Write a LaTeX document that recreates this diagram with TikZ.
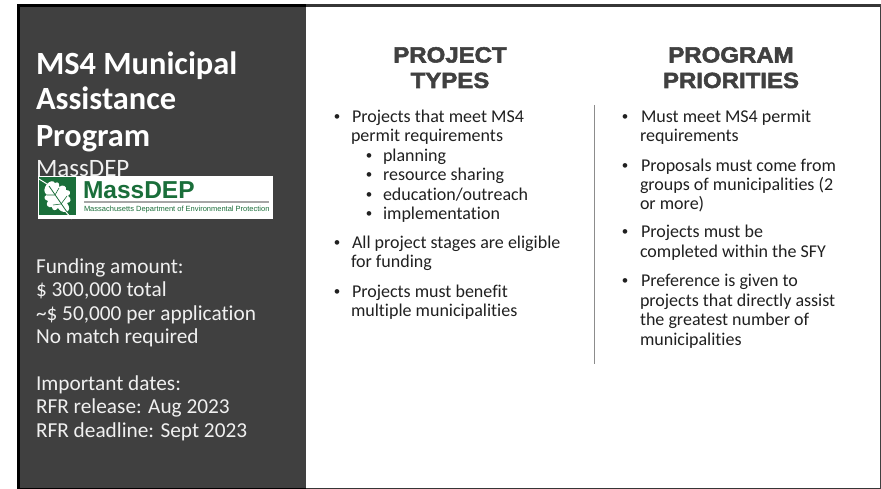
\documentclass[tikz,border=0pt]{standalone}
\usepackage{fontspec}
\setmainfont[Ligatures=NoCommon]{Carlito}
\newfontfamily\headfont[FakeStretch=1.09,FakeBold=2.4]{Liberation Sans Bold}
\newfontfamily\logofont{Liberation Sans}
\newfontfamily\bulletfont{Liberation Sans}
\definecolor{panel}{RGB}{64,64,64}
\definecolor{ink}{RGB}{32,32,32}
\definecolor{logogreen}{RGB}{26,110,58}
\definecolor{bodywhite}{RGB}{240,240,240}
\tikzset{x=1pt,y=-1pt,
 every node/.style={inner sep=0pt,outer sep=0pt},
 titletxt/.style={anchor=base west,text=white,font=\fontsize{32.4}{32.4}\selectfont\bfseries},
 sidetxt/.style={anchor=base west,text=bodywhite,font=\fontsize{21.3}{21.3}\selectfont},
 headtxt/.style={anchor=base,text=panel,font=\fontsize{22}{22}\headfont},
 itemtxt/.style={anchor=base west,text=ink,font=\fontsize{18}{18}\selectfont},
 bullettxt/.style={anchor=base,text=ink,font=\fontsize{17}{17}\bulletfont},
}
\begin{document}
\begin{tikzpicture}
\useasboundingbox (0,0) rectangle (881,489);
\fill[white] (0,0) rectangle (881,489);
% frame
\fill[black] (17,4) rectangle (306,489);
\fill[panel] (20,7) rectangle (306,488);
\fill[panel!85!black] (306,4) rectangle (881,7);
\fill[panel!85!black] (306,488) rectangle (881,489);
\fill[panel] (880,4) rectangle (881,489);
% title
\node[titletxt] (t1) at (36,75) {MS4 Municipal};
\node[titletxt] (t2) at (36,110) {Assistance};
\node[titletxt] (t3) at (36,147) {Program};
\node[sidetxt,font=\fontsize{25}{25}\selectfont] (t4) at (36,177) {MassDEP};
% logo
\fill[white] (38,176) rectangle (273,219);
\fill[logogreen] (39,177) rectangle (76,215);
\draw[white,line width=1pt] (39,179) -- (47,184);
\fill[white] (47,184) .. controls (50,181) and (53,180) .. (55,183)
  .. controls (58,181) and (60,184) .. (59,187)
  .. controls (63,184) and (67,186) .. (66,190)
  .. controls (70,190) and (72,193) .. (68,196)
  .. controls (72,198) and (71,203) .. (67,203)
  .. controls (70,207) and (70,211) .. (66,212)
  .. controls (62,212) and (60,211) .. (58,208)
  .. controls (56,211) and (52,211) .. (52,207)
  .. controls (48,208) and (45,205) .. (48,201)
  .. controls (44,200) and (43,196) .. (47,195)
  .. controls (43,192) and (44,188) .. cycle;
\draw[logogreen,line width=0.8pt] (49,186) -- (67,212);
\draw[logogreen,line width=0.6pt] (55,195) -- (59,188) (55,195) -- (47,195) (61,204) -- (67,196) (61,204) -- (53,205);
\draw[white,line width=1pt] (66,212) -- (72,219);
\node[anchor=base west,text=logogreen,font=\fontsize{24.5}{24.5}\logofont\bfseries] (lg) at (83,198.5) {MassDEP};
\fill[black!35] (84,201.5) rectangle (269,203.5);
\node[anchor=base west,text=logogreen,font=\fontsize{7.5}{7.5}\logofont] (ls) at (84,212) {Massachusetts Department of Environmental Protection};
% side text
\node[sidetxt] (f1) at (36,273) {Funding amount:};
\node[sidetxt] (f2) at (36,296) {\$ 300,000 total};
\node[sidetxt] (f3) at (36,320) {\textasciitilde\$ 50,000 per application};
\node[sidetxt] (f4) at (36,343) {No match required};
\node[sidetxt] (d1) at (36,390) {Important dates:};
\node[sidetxt] (d2) at (36,413) {RFR release: Aug 2023};
\node[sidetxt] (d3) at (36,437) {RFR deadline: Sept 2023};
% headings
\node[headtxt] (h1) at (450,62.5) {PROJECT};
\node[headtxt] (h2) at (450,88) {TYPES};
\node[headtxt] (h3) at (731,62.5) {PROGRAM};
\node[headtxt] (h4) at (731,88) {PRIORITIES};
% divider
\draw[draw=black!45,line width=0.8pt] (594.5,105) -- (594.5,364);
% left column
\node[bullettxt] at (337,123) {•};
\node[itemtxt] at (352,123) {Projects that meet MS4};
\node[itemtxt] at (351,142) {permit requirements};
\node[bullettxt] at (369,162) {•};
\node[itemtxt] at (383,162) {planning};
\node[bullettxt] at (369,181) {•};
\node[itemtxt] at (383,181) {resource sharing};
\node[bullettxt] at (369,201) {•};
\node[itemtxt] at (383,201) {education/outreach};
\node[bullettxt] at (369,220) {•};
\node[itemtxt] at (383,220) {implementation};
\node[bullettxt] at (337,248) {•};
\node[itemtxt] at (352,248) {All project stages are eligible};
\node[itemtxt] at (351,268) {for funding};
\node[bullettxt] at (337,297) {•};
\node[itemtxt] at (352,297) {Projects must benefit};
\node[itemtxt] at (351,316) {multiple municipalities};
% right column
\node[bullettxt] at (625,123) {•};
\node[itemtxt] at (641,123) {Must meet MS4 permit};
\node[itemtxt] at (640,142) {requirements};
\node[bullettxt] at (625,172) {•};
\node[itemtxt] at (641,172) {Proposals must come from};
\node[itemtxt] at (640,191) {groups of municipalities (2};
\node[itemtxt] at (640,210) {or more)};
\node[bullettxt] at (625,238) {•};
\node[itemtxt] at (641,238) {Projects must be};
\node[itemtxt] at (640,258) {completed within the SFY};
\node[bullettxt] at (625,287) {•};
\node[itemtxt] at (641,287) {Preference is given to};
\node[itemtxt] at (640,306) {projects that directly assist};
\node[itemtxt] at (640,325) {the greatest number of};
\node[itemtxt] at (640,345) {municipalities};
\end{tikzpicture}
\end{document}
